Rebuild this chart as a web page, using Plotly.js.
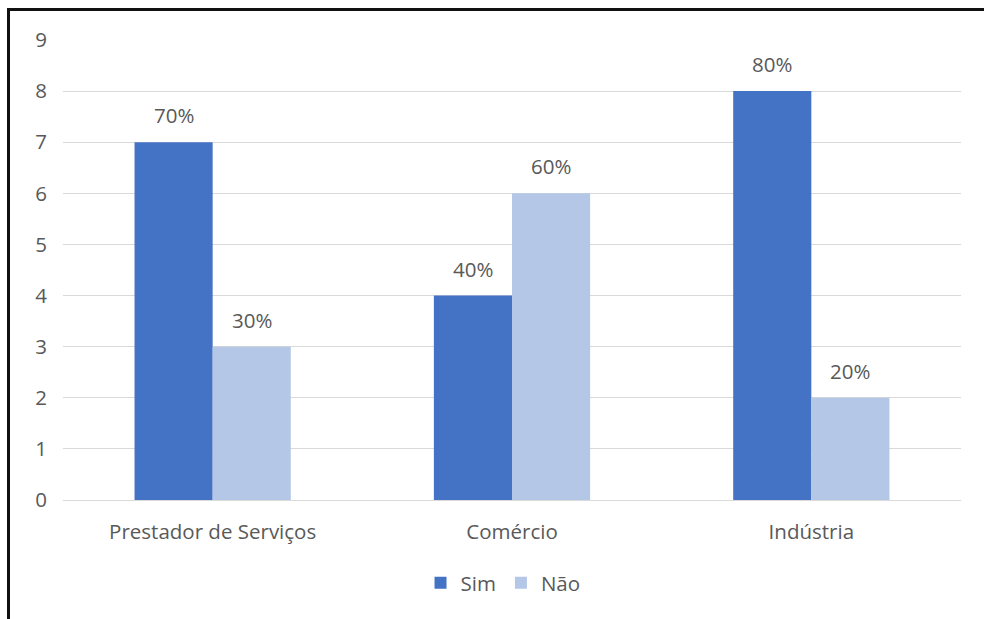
<!DOCTYPE html>
<html>
<head>
<meta charset="utf-8">
<script src="https://cdn.plot.ly/plotly-3.0.1.min.js"></script>
<style>
  html, body { margin: 0; padding: 0; background: #fff; }
  #wrap { position: relative; width: 984px; height: 619px; overflow: hidden; }
  #chart { position: absolute; left: 0; top: 0; width: 984px; height: 619px; }
  #frame { position: absolute; left: 7px; top: 8px; width: 990px; height: 700px;
           border-left: 3px solid #111; border-top: 3px solid #111; pointer-events: none; }
</style>
</head>
<body>
<div id="wrap">
  <div id="chart"></div>
  <div id="frame"></div>
</div>
<script>
const categories = ["Prestador de Serviços", "Comércio", "Indústria"];
const simValues = [7, 4, 8];
const naoValues = [3, 6, 2];
const simLabels = ["70%", "40%", "80%"];
const naoLabels = ["30%", "60%", "20%"];
const yTicks = [0, 1, 2, 3, 4, 5, 6, 7, 8, 9];

const textColor = "#595959";
const fontFamily = "'Open Sans', 'Noto Sans', sans-serif";
const fs = 20.5;

const traces = [
  { type: "bar", name: "Sim", x: categories, y: simValues,
    marker: { color: "#4472C4" }, hoverinfo: "skip" },
  { type: "bar", name: "Não", x: categories, y: naoValues,
    marker: { color: "#B4C7E7" }, hoverinfo: "skip" }
];

const annotations = [];
categories.forEach((c, i) => {
  annotations.push({ x: c, y: simValues[i], xshift: -39, yshift: 11, yanchor: "bottom",
    text: simLabels[i], showarrow: false, font: { size: fs, color: textColor, family: fontFamily } });
  annotations.push({ x: c, y: naoValues[i], xshift: 39, yshift: 11, yanchor: "bottom",
    text: naoLabels[i], showarrow: false, font: { size: fs, color: textColor, family: fontFamily } });
});

const layout = {
  width: 984, height: 619,
  margin: { l: 63, r: 23, t: 40, b: 119 },
  paper_bgcolor: "#ffffff", plot_bgcolor: "#ffffff",
  barmode: "group", bargap: 0.478, bargroupgap: 0,
  font: { family: fontFamily, color: textColor, size: fs },
  xaxis: { type: "category", showgrid: false, showline: false, zeroline: false,
    ticks: "", tickfont: { size: fs, color: textColor }, ticklabelstandoff: 17 },
  yaxis: { range: [0, 9], tickvals: yTicks, showgrid: true, gridcolor: "#D9D9D9", gridwidth: 1,
    zeroline: true, zerolinecolor: "#D9D9D9", zerolinewidth: 1, showline: false, ticks: "",
    tickfont: { size: fs, color: textColor }, ticklabelstandoff: 15 },
  legend: { orientation: "h", x: 0.49, xanchor: "center", y: -0.18, yanchor: "middle",
    font: { size: fs, color: textColor }, itemwidth: 30, traceorder: "normal" },
  annotations: annotations,
  showlegend: true
};

Plotly.newPlot("chart", traces, layout, { displayModeBar: false, staticPlot: true });
</script>
</body>
</html>
